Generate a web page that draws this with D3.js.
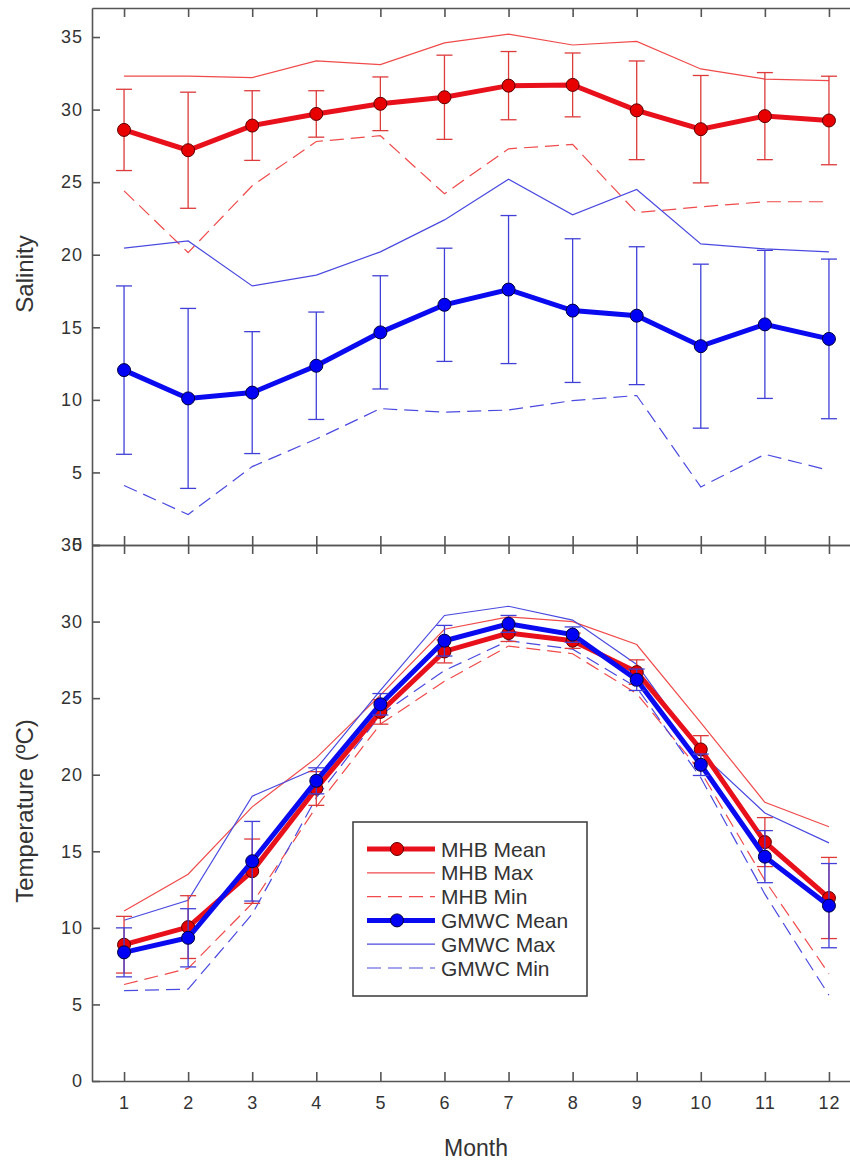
<!DOCTYPE html>
<html>
<head>
<meta charset="utf-8">
<script src="https://cdn.jsdelivr.net/npm/d3@7"></script>
<style>
  body { margin: 0; background: #fff; }
  text { font-family: Arial, "Liberation Sans", sans-serif; fill: #333; }
  .axis path, .axis line { stroke: #555; stroke-width: 1.6; }
  .axis text { font-size: 18px; fill: #333; letter-spacing: 1px; }
</style>
</head>
<body>
<div id="chart"></div>
<script>
// months on the x axis
const months = [1, 2, 3, 4, 5, 6, 7, 8, 9, 10, 11, 12];

// salinity (top panel)
const salMhbMean = [28.6, 27.2, 28.9, 29.7, 30.4, 30.85, 31.65, 31.7, 29.95, 28.65, 29.55, 29.25];
const salMhbSd   = [2.8, 4.0, 2.4, 1.6, 1.85, 2.9, 2.35, 2.2, 3.4, 3.7, 3.0, 3.05];
const salMhbMax  = [32.3, 32.3, 32.2, 33.35, 33.1, 34.6, 35.2, 34.45, 34.7, 32.8, 32.1, 32.0];
const salMhbMin  = [24.4, 20.15, 24.75, 27.8, 28.2, 24.2, 27.3, 27.6, 22.9, 23.3, 23.65, 23.65];
const salGmwcMean = [12.05, 10.1, 10.5, 12.35, 14.65, 16.55, 17.6, 16.15, 15.8, 13.7, 15.2, 14.2];
const salGmwcSd   = [5.8, 6.2, 4.2, 3.7, 3.9, 3.9, 5.1, 4.95, 4.75, 5.65, 5.1, 5.5];
const salGmwcMax  = [20.45, 20.95, 17.85, 18.6, 20.2, 22.4, 25.2, 22.75, 24.5, 20.75, 20.4, 20.2];
const salGmwcMin  = [4.1, 2.1, 5.4, 7.3, 9.4, 9.15, 9.3, 9.95, 10.3, 4.0, 6.25, 5.15];

// temperature (bottom panel)
const tempMhbMean = [8.9, 10.05, 13.7, 19.1, 24.1, 28.05, 29.25, 28.75, 26.7, 21.65, 15.6, 11.95];
const tempMhbSd   = [1.85, 2.05, 2.1, 1.1, 0.8, 0.75, 0.55, 0.5, 0.8, 0.9, 1.6, 2.65];
const tempMhbMax  = [11.1, 13.5, 17.9, 21.1, 25.2, 29.5, 30.3, 30.0, 28.5, 23.4, 18.2, 16.6];
const tempMhbMin  = [6.3, 7.35, 11.6, 17.9, 23.3, 26.1, 28.4, 27.9, 25.3, 20.2, 13.1, 7.0];
const tempGmwcMean = [8.4, 9.35, 14.35, 19.6, 24.6, 28.75, 29.85, 29.15, 26.2, 20.65, 14.65, 11.45];
const tempGmwcSd   = [1.6, 1.9, 2.6, 0.85, 0.7, 1.0, 0.55, 0.5, 0.7, 0.7, 1.7, 2.75];
const tempGmwcMax  = [10.5, 11.8, 18.6, 20.4, 25.5, 30.4, 31.0, 30.1, 27.2, 21.4, 17.5, 15.55];
const tempGmwcMin  = [5.9, 6.0, 10.9, 18.5, 23.9, 26.8, 28.75, 28.2, 25.7, 19.8, 12.2, 5.6];

const salTicks = [0, 5, 10, 15, 20, 25, 30, 35];
const tempTicks = [0, 5, 10, 15, 20, 25, 30, 35];
const legendLabels = ["MHB Mean", "MHB Max", "MHB Min", "GMWC Mean", "GMWC Max", "GMWC Min"];

const width = 850, height = 1161;
const svg = d3.select('#chart').append('svg')
  .attr('width', width).attr('height', height);

const x = d3.scaleLinear().domain([0.5, 12.5]).range([92, 861]);
const ySal = d3.scaleLinear().domain([0, 37]).range([545, 8]);
const yTemp = d3.scaleLinear().domain([0, 35]).range([1081, 545]);

const red = { mean: '#e8101a', thin: '#f04a4a', err: '#dd3a3a', dot: '#e80000', dotStroke: '#5a0000' };
const blue = { mean: '#0a0af0', thin: '#4a4ae0', err: '#4040d8', dot: '#0000f5', dotStroke: '#00003a' };

// axes: ticks point inward on every side
function drawAxes(y, ticks, showX) {
  svg.append('g').attr('class', 'axis')
    .attr('transform', `translate(92,0)`)
    .call(d3.axisLeft(y).tickValues(ticks).tickSize(-8).tickSizeOuter(0).tickPadding(9));
  const top = y.range()[1], bottom = y.range()[0];
  svg.append('g').attr('class', 'axis')
    .attr('transform', `translate(0,${top})`)
    .call(d3.axisTop(x).tickValues(months).tickSize(-9).tickSizeOuter(0).tickFormat(''));
  svg.append('g').attr('class', 'axis')
    .attr('transform', `translate(0,${bottom})`)
    .call(d3.axisBottom(x).tickValues(months).tickSize(-9).tickSizeOuter(0).tickPadding(15)
      .tickFormat(showX ? d3.format('d') : ''));
}
drawAxes(ySal, salTicks, false);
drawAxes(yTemp, tempTicks, true);

function series(y, vals, col, w, dash) {
  const line = d3.line().x((d, i) => x(months[i])).y(d => y(d));
  svg.append('path').datum(vals)
    .attr('d', line).attr('fill', 'none')
    .attr('stroke', col).attr('stroke-width', w)
    .attr('stroke-dasharray', dash || null);
}

function meanSeries(y, mean, sd, c) {
  series(y, mean, c.mean, 5);
  const g = svg.append('g');
  const cap = 8;
  months.forEach((m, i) => {
    const xm = x(m), y1 = y(mean[i] + sd[i]), y0 = y(mean[i] - sd[i]);
    g.append('line').attr('x1', xm).attr('x2', xm).attr('y1', y1).attr('y2', y0)
      .attr('stroke', c.err).attr('stroke-width', 1.3);
    [y1, y0].forEach(yy => g.append('line')
      .attr('x1', xm - cap).attr('x2', xm + cap).attr('y1', yy).attr('y2', yy)
      .attr('stroke', c.err).attr('stroke-width', 1.3));
  });
  svg.append('g').selectAll('circle').data(mean).join('circle')
    .attr('cx', (d, i) => x(months[i])).attr('cy', d => y(d)).attr('r', 6.5)
    .attr('fill', c.dot).attr('stroke', c.dotStroke).attr('stroke-width', 1);
}

// salinity panel
series(ySal, salMhbMax, red.thin, 1.2);
series(ySal, salMhbMin, red.thin, 1.2, '14,7');
series(ySal, salGmwcMax, blue.thin, 1.2);
series(ySal, salGmwcMin, blue.thin, 1.2, '14,7');
meanSeries(ySal, salMhbMean, salMhbSd, red);
meanSeries(ySal, salGmwcMean, salGmwcSd, blue);

// temperature panel
series(yTemp, tempMhbMax, red.thin, 1.2);
series(yTemp, tempMhbMin, red.thin, 1.2, '14,7');
series(yTemp, tempGmwcMax, blue.thin, 1.2);
series(yTemp, tempGmwcMin, blue.thin, 1.2, '14,7');
meanSeries(yTemp, tempMhbMean, tempMhbSd, red);
meanSeries(yTemp, tempGmwcMean, tempGmwcSd, blue);

// axis titles
svg.append('text').attr('transform', `translate(33,274) rotate(-90)`)
  .attr('text-anchor', 'middle').style('font-size', '24px').text('Salinity');
svg.append('text').attr('transform', `translate(33,811) rotate(-90)`)
  .attr('text-anchor', 'middle').style('font-size', '24px').text('Temperature (ºC)');
svg.append('text').attr('x', 476).attr('y', 1156)
  .attr('text-anchor', 'middle').style('font-size', '23px').text('Month');

// legend
const lg = svg.append('g').attr('transform', 'translate(353,822)');
lg.append('rect').attr('width', 234).attr('height', 174)
  .attr('fill', '#fff').attr('stroke', '#444').attr('stroke-width', 1.6);
const legendStyles = [
  { c: red, w: 5, dash: null, dot: true },
  { c: red, w: 1.2, dash: null, dot: false },
  { c: red, w: 1.2, dash: '14,7', dot: false },
  { c: blue, w: 5, dash: null, dot: true },
  { c: blue, w: 1.2, dash: null, dot: false },
  { c: blue, w: 1.2, dash: '14,7', dot: false }
];
legendLabels.forEach((lab, i) => {
  const s = legendStyles[i];
  const yy = 27 + i * 23.8;
  lg.append('line').attr('x1', 14).attr('x2', 82).attr('y1', yy).attr('y2', yy)
    .attr('stroke', s.dot ? s.c.mean : s.c.thin).attr('stroke-width', s.w)
    .attr('stroke-dasharray', s.dash);
  if (s.dot) {
    lg.append('circle').attr('cx', 44).attr('cy', yy).attr('r', 6.5)
      .attr('fill', s.c.dot).attr('stroke', s.c.dotStroke).attr('stroke-width', 1);
  }
  lg.append('text').attr('x', 88).attr('y', yy + 7.5).style('font-size', '21px').text(lab);
});
</script>
</body>
</html>
